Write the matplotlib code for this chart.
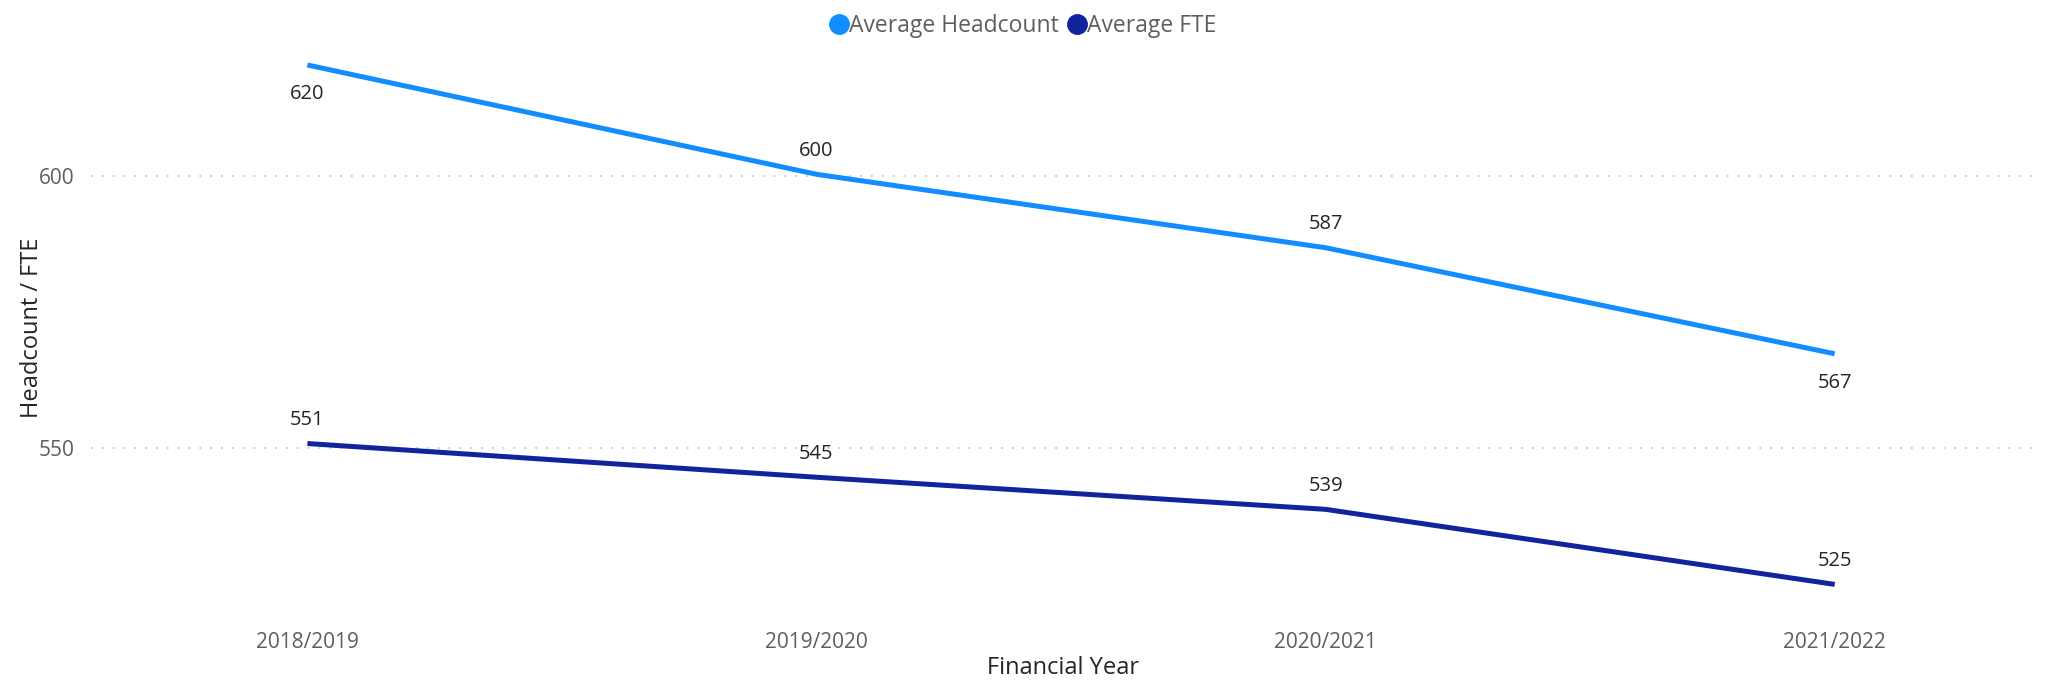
import matplotlib.pyplot as plt
from matplotlib.lines import Line2D

# data
years = ["2018/2019", "2019/2020", "2020/2021", "2021/2022"]
headcount = [620.4, 600.3, 586.8, 567.3]
fte = [550.8, 544.6, 538.7, 524.9]

# where each data label sits relative to its point
headcount_label_pos = ["below", "above", "above", "below"]
fte_label_pos = ["above", "above", "above", "above"]

colors = ["#118DFF", "#12239E"]

plt.rcParams['font.family'] = ['Open Sans', 'DejaVu Sans']

fig = plt.figure(figsize=(20.46, 6.9), dpi=100)
ax = fig.add_axes([0.0445, 0.116, 0.9505, 0.819])

x = list(range(len(years)))
ax.plot(x, headcount, color=colors[0], lw=3.6, solid_capstyle="butt")
ax.plot(x, fte, color=colors[1], lw=3.6, solid_capstyle="butt")


def add_labels(values, positions):
    for xi, v, pos in zip(x, values, positions):
        dy = 17 if pos == "above" else -21
        ax.annotate(f"{v:.0f}", (xi, v), xytext=(0, dy), textcoords="offset points",
                    ha="center", va="center", fontsize=14.5, color="#252423")


add_labels(headcount, headcount_label_pos)
add_labels(fte, fte_label_pos)

ax.set_xlim(-0.425, 3.395)
ax.set_ylim(520.2, 624.1)
ax.set_yticks([550, 600])
ax.set_xticks(x)
ax.set_xticklabels(years)
ax.tick_params(axis="both", length=0, labelsize=15, labelcolor="#605E5C")
ax.tick_params(axis="x", pad=16)
ax.tick_params(axis="y", pad=12)
ax.grid(axis="y", color="#C8C6C4", linestyle=(0, (1, 5)), lw=1.3)
for s in ax.spines.values():
    s.set_visible(False)

ax.set_xlabel("Financial Year", fontsize=17, color="#252423", labelpad=2)
ax.set_ylabel("Headcount / FTE", fontsize=17, color="#252423", labelpad=-4)

# round legend markers
handles = [Line2D([], [], marker="o", ls="", color=c, markersize=14) for c in colors]
fig.legend(handles, ["Average Headcount", "Average FTE"], loc="upper center",
           bbox_to_anchor=(0.5, 1.01), ncol=2, frameon=False, fontsize=16.5,
           handlelength=0.8, handletextpad=0.05, columnspacing=0.4, labelcolor="#605E5C")

fig.savefig("out.png", dpi=100)
